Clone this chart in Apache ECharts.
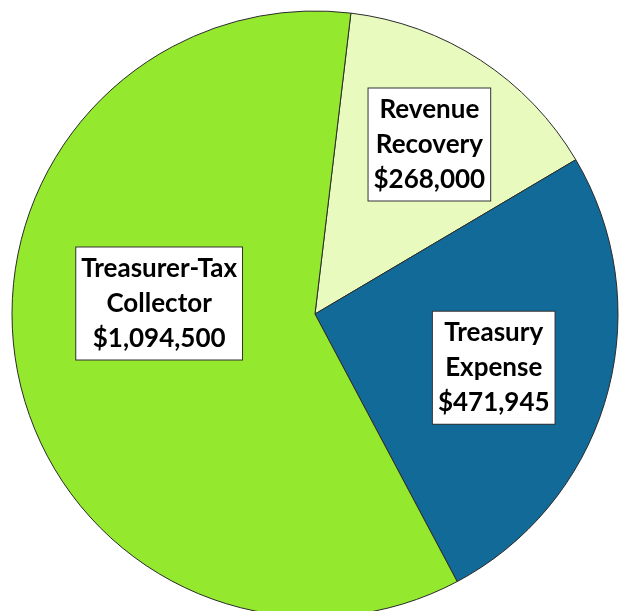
<!DOCTYPE html>
<html>
<head>
<meta charset="utf-8">
<script src="https://cdn.jsdelivr.net/npm/echarts@6/dist/echarts.min.js"></script>
<style>
html,body{margin:0;padding:0;background:#fff;}
#chart{width:621px;height:611px;}
</style>
</head>
<body>
<div id="chart"></div>
<script>
const categories = ['Revenue\nRecovery', 'Treasury\nExpense', 'Treasurer-Tax\nCollector'];
const values = [268000, 471945, 1094500];
const colors = ['#E8FABD', '#126A98', '#94E82E'];

const labelShift = [[30, -40], [30, 12], [-4, -39]];

const chart = echarts.init(document.getElementById('chart'), null, {renderer: 'canvas'});
chart.setOption({
  backgroundColor: '#ffffff',
  animation: false,
  series: [{
    type: 'pie',
    center: [315, 314],
    radius: [0, 303],
    startAngle: 83.2,
    clockwise: true,
    avoidLabelOverlap: false,
    data: categories.map((c, i) => ({
      name: c,
      value: values[i],
      itemStyle: {color: colors[i]}
    })),
    itemStyle: {borderColor: '#2b2b2b', borderWidth: 1},
    label: {
      show: true,
      position: 'inside',
      formatter: p => p.name + '\n$' + p.value.toLocaleString('en-US'),
      fontFamily: 'Lato',
      fontWeight: 'bold',
      fontSize: 26,
      lineHeight: 35,
      color: '#000',
      backgroundColor: '#ffffff',
      borderColor: '#333333',
      borderWidth: 1,
      padding: [4, 5, 3, 5],
      align: 'center',
      verticalAlign: 'middle'
    },
    labelLine: {show: false},
    emphasis: {disabled: true},
    labelLayout: function (params) {
      const s = labelShift[params.dataIndex];
      return {dx: s[0], dy: s[1]};
    }
  }]
});
</script>
</body>
</html>
